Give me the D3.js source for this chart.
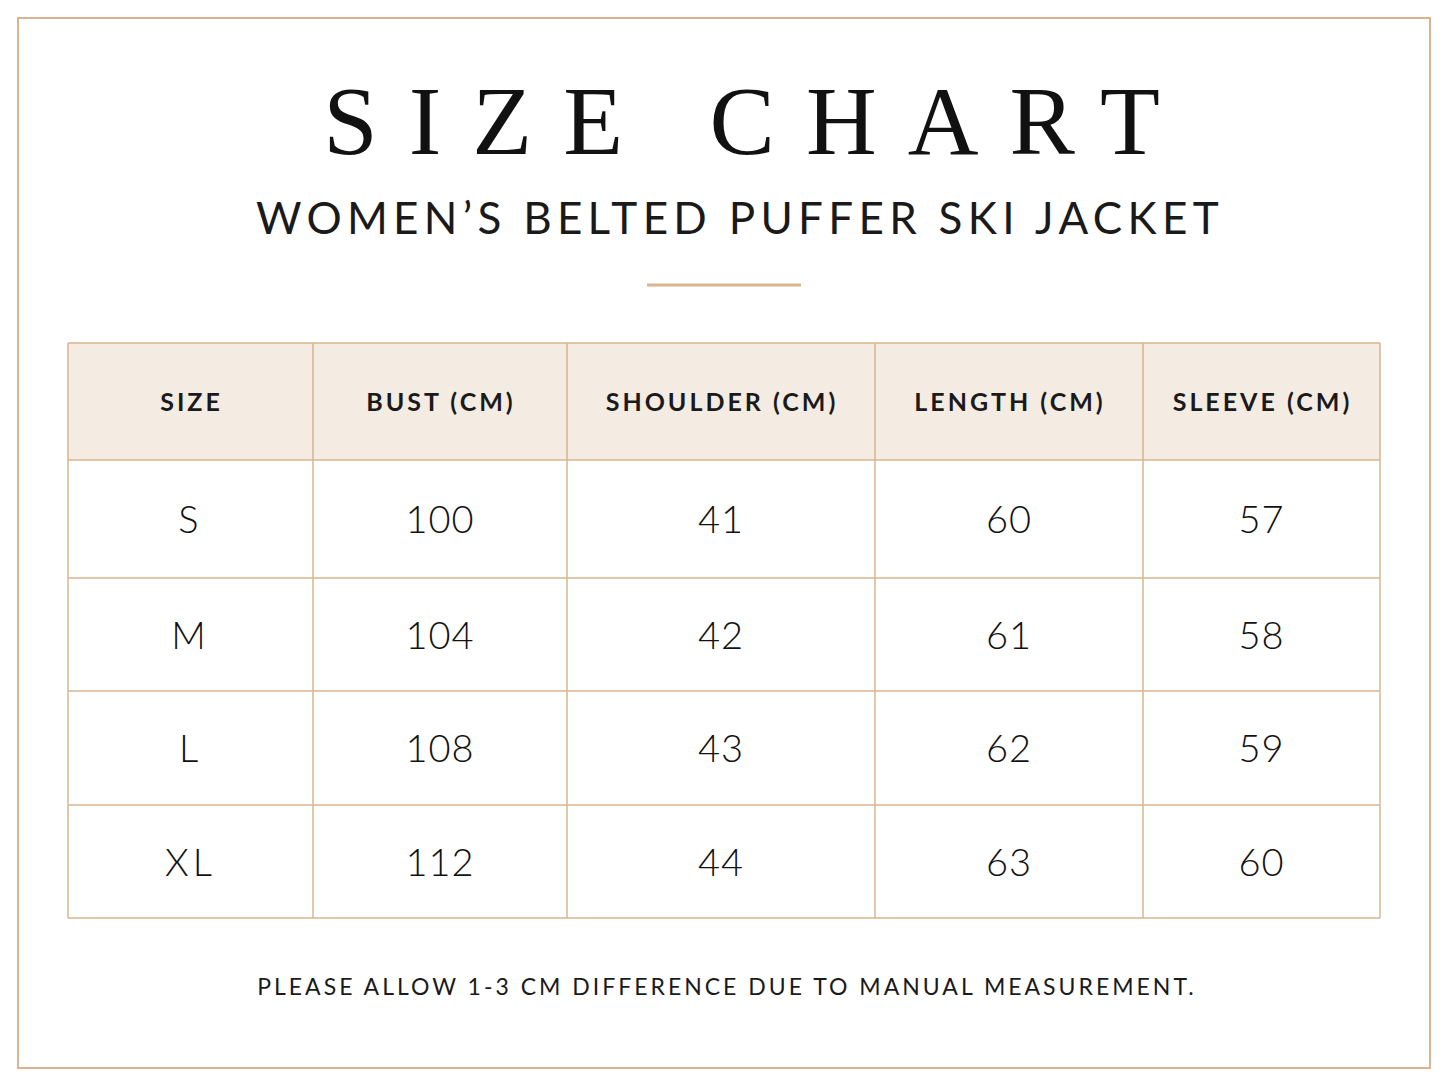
<!DOCTYPE html><html><head><meta charset="utf-8">
<script src="https://cdn.jsdelivr.net/npm/d3@7"></script>
<style>body{margin:0;background:#fff}</style></head><body><svg id="c" width="1448" height="1086"></svg>
<script>
const headers=["SIZE","BUST (CM)","SHOULDER (CM)","LENGTH (CM)","SLEEVE (CM)"];
const sizes=["S","M","L","XL"];
const bust=[100,104,108,112];
const shoulder=[41,42,43,44];
const length=[60,61,62,63];
const sleeve=[57,58,59,60];
const colEdges=[68,313,567,875,1143,1380];
const rowEdges=[343,460,578,691,805,918];
const svg=d3.select("#c");
const tan="#d9b48f";
svg.append("rect").attr("x",18).attr("y",18).attr("width",1412).attr("height",1050).attr("fill","#fff").attr("stroke",tan).attr("stroke-width",2);
svg.append("text").attr("x",742+15).attr("y",154).attr("text-anchor","middle").attr("font-family","Liberation Serif, DejaVu Serif, serif").attr("font-size",98).attr("letter-spacing",31).attr("fill","#111").text("SIZE CHART");
svg.append("text").attr("x",740).attr("y",234).attr("text-anchor","middle").attr("font-family","Lato, 'Open Sans', sans-serif").attr("font-size",44).attr("letter-spacing",5.3).attr("fill","#1a1a1a").text("WOMEN’S BELTED PUFFER SKI JACKET");
svg.append("line").attr("x1",647).attr("x2",801).attr("y1",285).attr("y2",285).attr("stroke",tan).attr("stroke-width",3);
const rows=sizes.map((s,i)=>[s,bust[i],shoulder[i],length[i],sleeve[i]]);
const g=svg.append("g");
g.append("rect").attr("x",colEdges[0]).attr("y",rowEdges[0]).attr("width",colEdges[5]-colEdges[0]).attr("height",rowEdges[1]-rowEdges[0]).attr("fill","#f4ece3");
headers.forEach((h,j)=>{
 g.append("text").attr("x",(colEdges[j]+colEdges[j+1])/2+1).attr("y",(rowEdges[0]+rowEdges[1])/2+9).attr("text-anchor","middle").attr("font-family","Lato, 'Open Sans', sans-serif").attr("font-weight","bold").attr("font-size",25).attr("letter-spacing",3).attr("fill","#1a1a1a").text(h);
});
rows.forEach((r,i)=>r.forEach((v,j)=>{
 g.append("text").attr("x",(colEdges[j]+colEdges[j+1])/2).attr("y",(rowEdges[i+1]+rowEdges[i+2])/2+14).attr("text-anchor","middle").attr("font-family","Lato, 'Open Sans', sans-serif").attr("font-weight",300).attr("font-size",38).attr("letter-spacing",j==0?4:1).attr("fill","#111").text(v);
}));
colEdges.forEach(x=>g.append("line").attr("x1",x).attr("x2",x).attr("y1",rowEdges[0]).attr("y2",rowEdges[5]).attr("stroke",tan).attr("stroke-width",1.5));
rowEdges.forEach(y=>g.append("line").attr("x1",colEdges[0]).attr("x2",colEdges[5]).attr("y1",y).attr("y2",y).attr("stroke",tan).attr("stroke-width",1.5));
svg.append("text").attr("x",727).attr("y",995).attr("text-anchor","middle").attr("font-family","Lato, 'Open Sans', sans-serif").attr("font-size",23).attr("letter-spacing",3).attr("fill","#1a1a1a").text("PLEASE ALLOW 1-3 CM DIFFERENCE DUE TO MANUAL MEASUREMENT.");
</script></body></html>
